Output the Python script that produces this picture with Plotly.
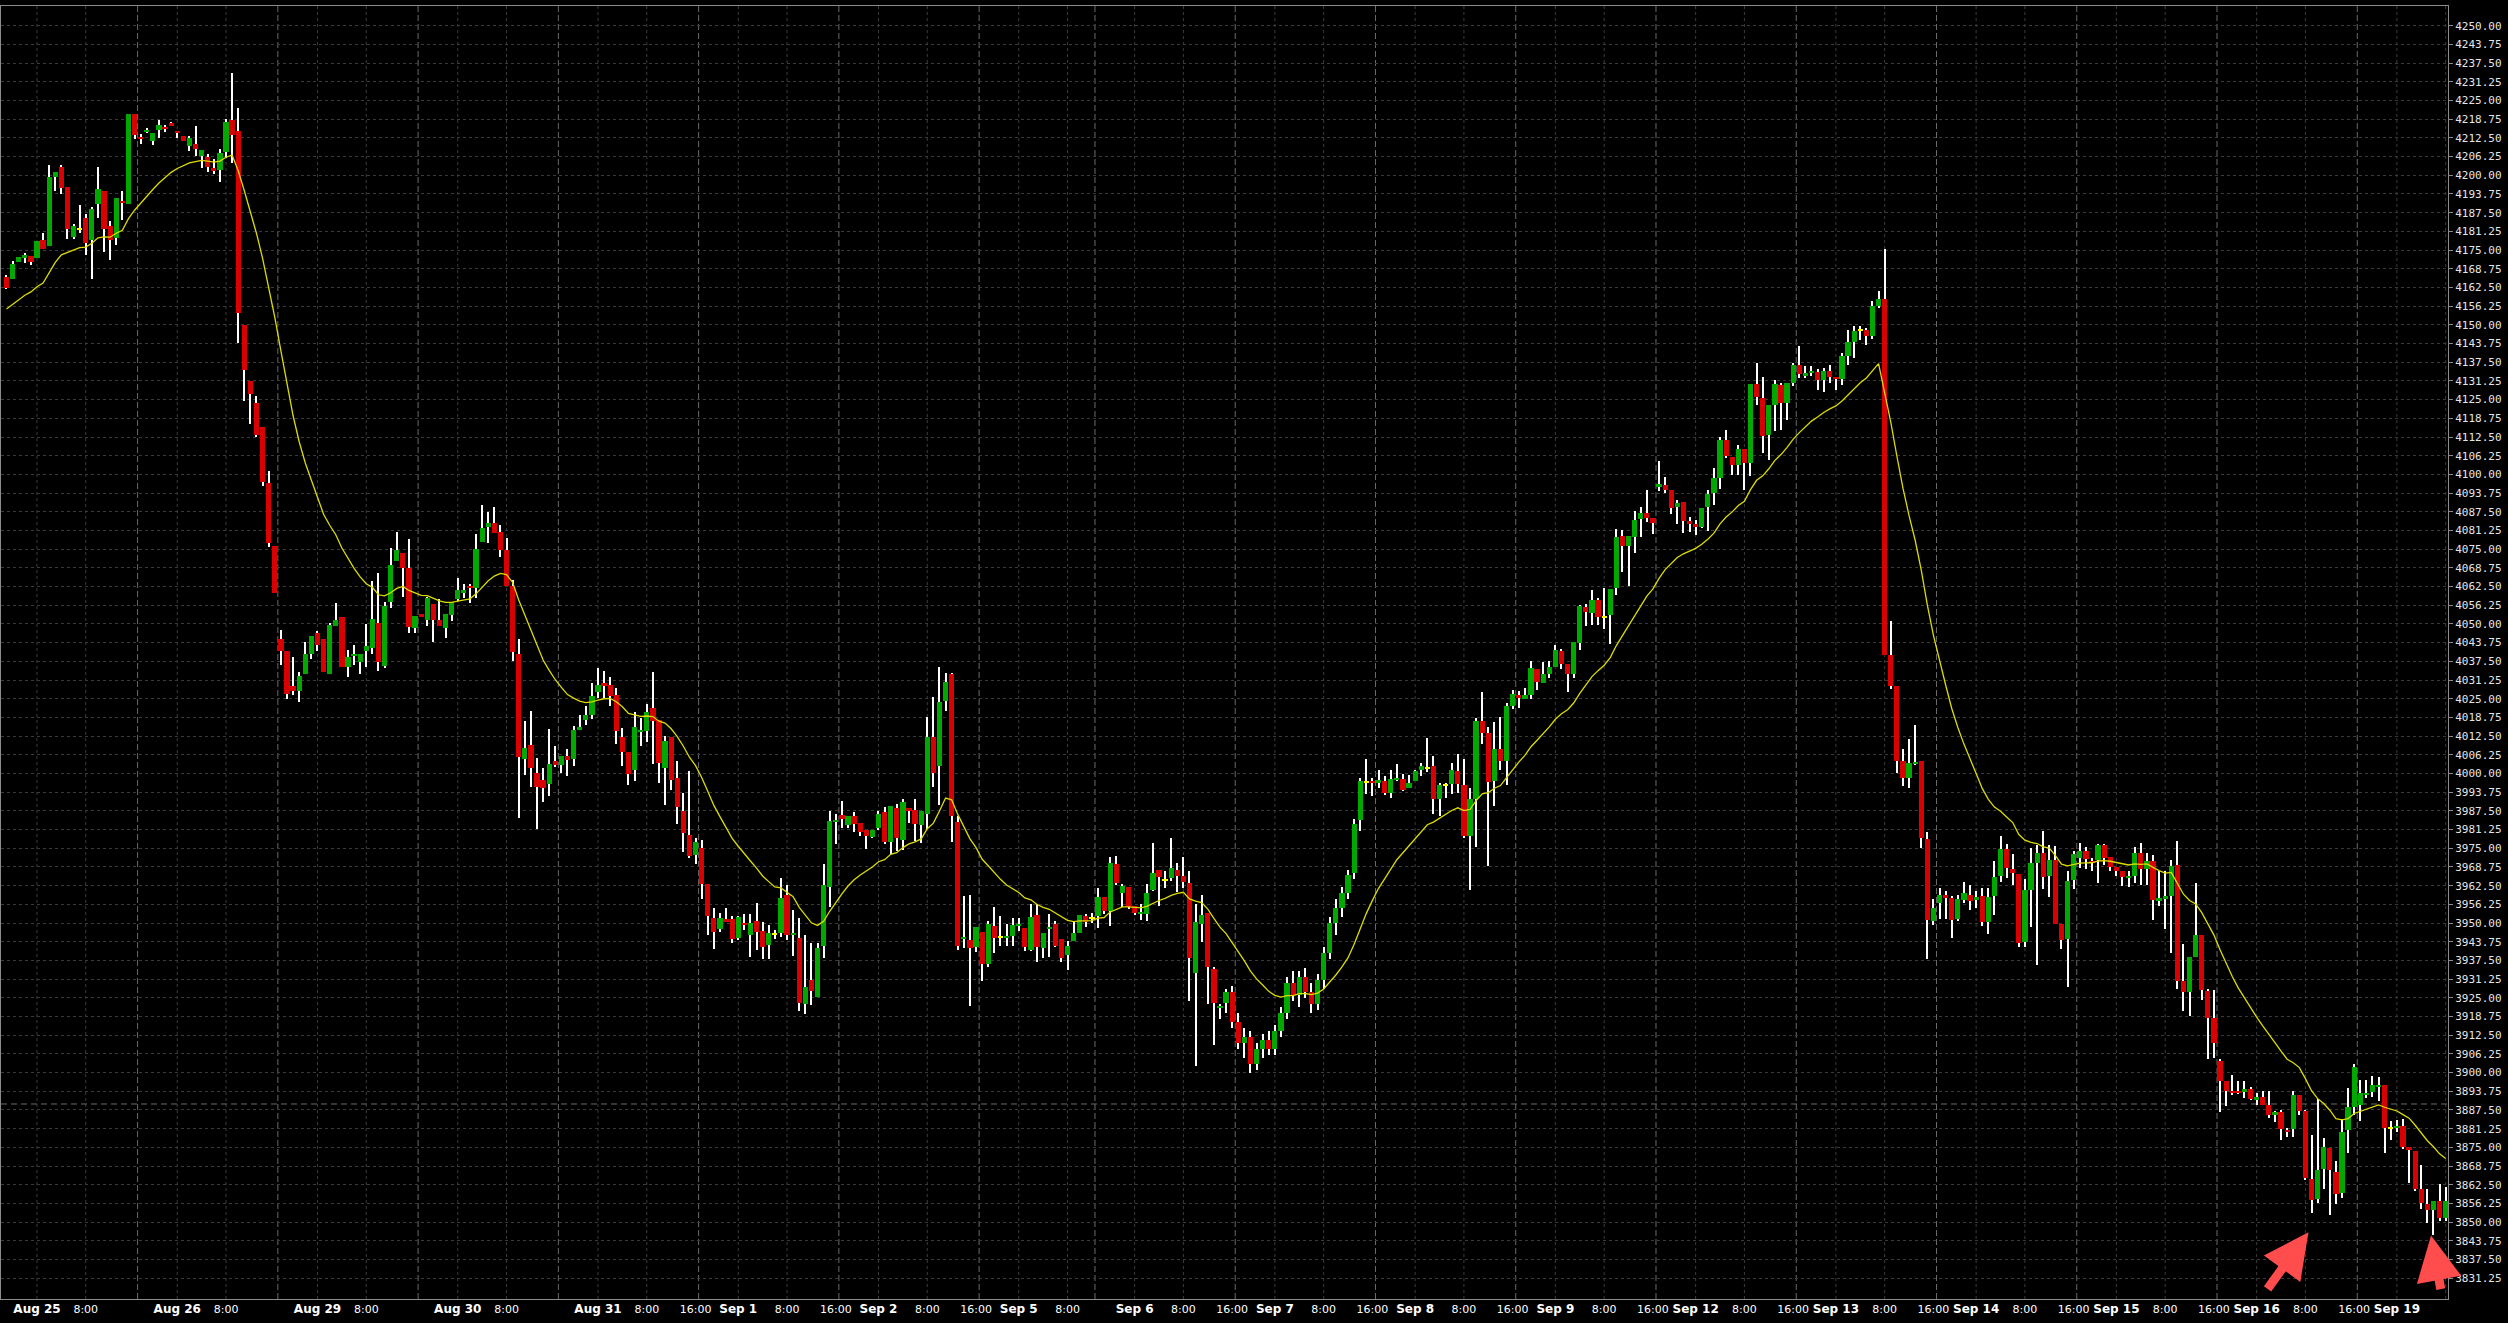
import plotly.graph_objects as go

# ---------------- data (hourly bars) ----------------
opens = [
4166.1, 4165.2, 4171.1, 4172.2, 4173.0, 4172.2, 4178.5, 4176.5, 4199.3, 4202.7,
4196.1, 4179.3, 4182.2, 4185.8, 4178.2, 4190.3, 4194.8, 4183.0, 4179.0, 4191.3,
4190.4, 4220.6, 4212.7, 4214.5, 4211.3, 4215.2, 4216.2, 4217.4, 4214.8, 4213.2,
4209.7, 4210.6, 4206.5, 4206.2, 4202.6, 4201.9, 4207.9, 4218.5, 4214.8, 4150.0,
4131.3, 4123.9, 4115.8, 4097.2, 4075.9, 4045.0, 4041.0, 4029.4, 4027.5, 4033.3,
4040.0, 4047.1, 4044.8, 4033.3, 4049.2, 4052.3, 4035.5, 4039.4, 4037.2, 4041.1,
4042.0, 4050.4, 4036.1, 4057.2, 4071.0, 4073.7, 4068.7, 4048.7, 4053.2, 4051.3,
4056.5, 4051.2, 4048.7, 4053.0, 4058.4, 4060.6, 4062.6, 4062.1, 4077.4, 4082.3,
4083.7, 4080.6, 4074.6, 4062.7, 4039.8, 4004.8, 4009.4, 4000.1, 3997.7, 3996.5,
4004.2, 4002.8, 4005.7, 4004.8, 4014.6, 4017.9, 4019.7, 4027.2, 4030.4, 4029.6,
4026.3, 4012.1, 4007.3, 4001.1, 4014.0, 4014.3, 4021.8, 4017.9, 4001.8, 4012.1,
3998.5, 3987.6, 3979.6, 3972.6, 3975.2, 3962.9, 3951.8, 3948.0, 3951.2, 3951.3,
3945.0, 3950.0, 3945.9, 3950.7, 3947.5, 3942.6, 3946.3, 3946.8, 3959.5, 3946.2,
3945.0, 3923.0, 3931.0, 3925.2, 3942.2, 3961.9, 3983.9, 3986.2, 3982.7, 3985.9,
3983.6, 3981.1, 3978.6, 3981.7, 3987.1, 3977.2, 3988.6, 3977.7, 3988.3, 3987.9,
3982.7, 3986.6, 4012.3, 4002.6, 4024.4, 4033.1, 3983.7, 3944.9, 3944.4, 3941.9,
3947.1, 3936.2, 3949.0, 3945.4, 3945.2, 3945.8, 3949.0, 3948.2, 3941.0, 3952.8,
3941.5, 3947.9, 3949.7, 3944.7, 3939.4, 3943.9, 3946.6, 3952.4, 3951.9, 3952.2,
3958.8, 3953.9, 3969.8, 3959.9, 3962.2, 3955.8, 3952.9, 3952.9, 3961.1, 3967.7,
3964.5, 3965.0, 3967.7, 3965.7, 3963.4, 3933.3, 3949.7, 3953.4, 3934.6, 3921.8,
3923.2, 3927.0, 3917.0, 3910.0, 3912.0, 3903.0, 3908.0, 3911.0, 3908.0, 3914.0,
3920.0, 3930.0, 3926.0, 3932.0, 3927.0, 3923.0, 3931.0, 3940.0, 3950.0, 3955.0,
3960.0, 3966.8, 3984.6, 3997.2, 3997.4, 3996.7, 3997.4, 3993.5, 3997.9, 3998.3,
3995.0, 3997.4, 4001.3, 4001.9, 4002.5, 3991.6, 3996.3, 3996.6, 4000.8, 3996.1,
3979.1, 3991.5, 4017.5, 4013.5, 3997.4, 4008.3, 4004.1, 4022.5, 4026.2, 4025.0,
4026.2, 4035.1, 4030.3, 4033.3, 4035.6, 4040.9, 4036.5, 4033.3, 4043.6, 4055.6,
4053.7, 4058.0, 4052.4, 4053.1, 4062.1, 4079.3, 4076.0, 4079.2, 4085.0, 4087.1,
4085.4, 4095.8, 4096.4, 4094.7, 4089.1, 4090.7, 4084.4, 4083.3, 4082.5, 4089.1,
4093.7, 4098.9, 4111.4, 4105.9, 4103.0, 4108.6, 4103.8, 4130.2, 4125.6, 4113.3,
4123.1, 4129.9, 4123.9, 4130.7, 4136.6, 4133.2, 4133.8, 4134.1, 4131.4, 4134.6,
4132.5, 4131.8, 4139.6, 4144.4, 4148.2, 4148.2, 4146.4, 4156.2, 4158.7, 4039.7,
4029.2, 4004.2, 3998.5, 4003.3, 4004.2, 3978.0, 3950.7, 3956.6, 3959.4, 3958.3,
3951.2, 3957.8, 3959.4, 3957.7, 3959.1, 3950.2, 3958.9, 3965.7, 3974.7, 3968.1,
3966.5, 3943.6, 3961.0, 3970.1, 3973.3, 3965.6, 3971.2, 3949.6, 3944.7, 3964.3,
3971.8, 3974.2, 3970.9, 3971.2, 3976.0, 3972.0, 3968.6, 3967.3, 3965.1, 3965.6,
3973.4, 3968.1, 3970.9, 3957.5, 3958.2, 3958.9, 3969.5, 3930.5, 3926.9, 3938.5,
3946.1, 3927.4, 3918.2, 3903.8, 3897.1, 3894.0, 3894.0, 3893.5, 3894.6, 3890.8,
3891.9, 3889.0, 3886.1, 3886.7, 3880.9, 3881.2, 3892.4, 3887.0, 3864.5, 3857.7,
3867.8, 3874.8, 3866.7, 3859.7, 3880.7, 3888.4, 3889.3, 3892.4, 3893.5, 3895.4,
3895.9, 3881.4, 3881.7, 3882.2, 3875.0, 3873.9, 3861.1, 3856.1, 3854.1, 3857.2,
3851.4,
]

highs = [
4166.5, 4171.4, 4172.7, 4173.9, 4173.0, 4178.1, 4180.7, 4203.3, 4201.1, 4203.5,
4196.1, 4183.8, 4190.1, 4187.2, 4189.3, 4202.7, 4194.8, 4184.6, 4192.4, 4194.8,
4220.6, 4220.6, 4213.9, 4215.9, 4214.0, 4218.5, 4216.8, 4217.7, 4214.8, 4213.2,
4213.0, 4216.6, 4208.5, 4207.2, 4205.6, 4208.8, 4218.8, 4234.2, 4222.4, 4150.0,
4131.3, 4126.1, 4115.8, 4101.1, 4075.9, 4048.1, 4041.0, 4039.1, 4034.0, 4044.0,
4046.1, 4047.5, 4044.8, 4050.4, 4056.9, 4052.3, 4041.4, 4042.9, 4040.1, 4050.1,
4064.2, 4067.1, 4057.2, 4075.3, 4080.7, 4073.7, 4078.5, 4052.6, 4053.2, 4059.1,
4056.5, 4058.3, 4053.2, 4057.2, 4065.3, 4063.3, 4063.3, 4080.0, 4089.7, 4087.5,
4089.1, 4083.0, 4078.9, 4064.8, 4044.9, 4017.4, 4021.0, 4005.1, 4001.7, 4015.0,
4009.1, 4006.0, 4008.1, 4015.9, 4019.7, 4022.4, 4030.2, 4035.3, 4034.4, 4032.2,
4028.7, 4015.1, 4007.3, 4020.4, 4018.7, 4023.4, 4033.8, 4017.9, 4012.7, 4012.1,
4004.2, 3993.6, 4000.7, 3978.5, 3977.6, 3962.9, 3954.9, 3953.5, 3954.9, 3952.5,
3952.5, 3953.1, 3953.1, 3956.8, 3950.3, 3949.5, 3947.7, 3965.0, 3962.7, 3954.3,
3951.7, 3945.9, 3943.2, 3943.2, 3969.8, 3987.6, 3986.3, 3990.9, 3985.9, 3987.1,
3983.6, 3981.1, 3981.1, 3987.6, 3988.7, 3989.2, 3989.8, 3991.5, 3988.3, 3991.5,
3987.3, 4019.0, 4025.5, 4035.7, 4033.5, 4033.6, 3985.7, 3959.2, 3959.5, 3948.8,
3947.1, 3950.8, 3955.5, 3952.5, 3949.7, 3951.7, 3951.6, 3948.2, 3956.2, 3956.4,
3946.8, 3953.0, 3950.8, 3944.7, 3944.1, 3950.8, 3952.8, 3953.0, 3953.5, 3961.7,
3958.8, 3972.2, 3972.5, 3963.1, 3962.2, 3955.8, 3956.4, 3963.1, 3976.7, 3967.7,
3967.5, 3978.4, 3970.2, 3972.2, 3967.5, 3956.2, 3959.4, 3953.4, 3935.2, 3922.9,
3928.0, 3929.0, 3920.0, 3915.0, 3914.0, 3910.0, 3913.0, 3914.0, 3916.0, 3922.0,
3932.0, 3934.0, 3934.0, 3935.0, 3930.0, 3933.0, 3942.0, 3952.0, 3958.0, 3962.0,
3967.6, 3984.8, 3998.6, 4005.0, 3998.6, 4001.0, 3999.1, 4001.3, 4003.2, 3999.7,
3999.5, 4001.3, 4003.6, 4011.9, 4005.8, 3996.9, 3996.9, 4003.6, 4006.6, 4005.0,
3995.2, 4018.6, 4027.2, 4015.5, 4017.2, 4018.9, 4023.6, 4027.9, 4027.5, 4028.7,
4037.6, 4035.1, 4037.2, 4037.6, 4043.0, 4041.5, 4036.5, 4043.9, 4056.3, 4056.5,
4061.2, 4058.8, 4061.9, 4061.7, 4081.6, 4081.4, 4079.3, 4087.6, 4089.1, 4094.7,
4085.4, 4104.5, 4099.1, 4094.7, 4091.5, 4090.7, 4085.7, 4084.9, 4088.8, 4094.7,
4102.2, 4112.5, 4114.9, 4105.9, 4109.7, 4108.6, 4130.2, 4137.4, 4132.7, 4123.1,
4131.4, 4130.7, 4130.7, 4137.4, 4143.0, 4136.2, 4136.2, 4135.4, 4135.7, 4136.5,
4132.5, 4140.6, 4148.3, 4149.6, 4149.6, 4149.1, 4158.0, 4161.4, 4175.2, 4050.9,
4029.2, 4008.2, 4011.5, 4016.2, 4004.2, 3980.4, 3958.1, 3961.8, 3960.7, 3959.1,
3959.4, 3963.8, 3962.6, 3960.7, 3961.8, 3961.8, 3970.9, 3979.1, 3976.3, 3973.1,
3966.5, 3964.6, 3975.2, 3976.0, 3980.9, 3976.0, 3975.7, 3949.6, 3967.5, 3974.0,
3976.6, 3975.3, 3971.8, 3976.5, 3976.5, 3972.0, 3968.6, 3967.3, 3967.3, 3975.3,
3976.6, 3973.4, 3972.9, 3967.3, 3967.3, 3971.0, 3977.3, 3943.1, 3938.5, 3963.4,
3946.1, 3927.9, 3927.7, 3904.7, 3897.1, 3899.1, 3897.1, 3897.1, 3895.2, 3893.1,
3893.9, 3893.9, 3887.2, 3887.6, 3881.4, 3893.9, 3892.6, 3887.6, 3879.0, 3891.2,
3878.1, 3874.8, 3870.5, 3884.4, 3894.8, 3903.0, 3897.4, 3897.6, 3898.7, 3898.4,
3895.9, 3883.7, 3884.2, 3884.4, 3875.0, 3873.9, 3869.2, 3861.1, 3857.2, 3862.7,
3861.6,
]

lows = [
4162.0, 4165.2, 4171.1, 4170.7, 4170.1, 4172.2, 4175.5, 4176.5, 4194.9, 4193.9,
4178.8, 4178.8, 4180.6, 4173.2, 4165.2, 4185.8, 4174.5, 4171.6, 4176.8, 4184.9,
4190.4, 4212.0, 4210.6, 4214.0, 4210.1, 4212.6, 4214.6, 4216.8, 4212.4, 4211.6,
4208.2, 4206.4, 4202.4, 4201.1, 4200.4, 4197.9, 4205.9, 4204.0, 4143.9, 4124.5,
4116.8, 4112.4, 4096.1, 4075.6, 4060.3, 4036.2, 4025.0, 4026.1, 4023.9, 4033.3,
4038.4, 4040.8, 4034.0, 4033.3, 4049.2, 4035.5, 4032.1, 4036.2, 4033.2, 4035.5,
4039.8, 4034.3, 4035.3, 4055.3, 4071.0, 4059.0, 4047.1, 4046.9, 4052.3, 4049.3,
4043.9, 4049.2, 4045.3, 4051.0, 4057.7, 4058.8, 4057.1, 4058.8, 4077.4, 4077.0,
4080.5, 4072.4, 4062.7, 4037.6, 3985.2, 3999.5, 3995.4, 3981.5, 3990.5, 3992.4,
4002.3, 4000.3, 3999.1, 4002.4, 4014.6, 4016.2, 4018.2, 4025.4, 4025.4, 4022.5,
4009.9, 4002.4, 3996.1, 3997.5, 4009.1, 4010.6, 4003.2, 3996.9, 3989.4, 3994.6,
3983.2, 3973.8, 3971.6, 3969.7, 3958.0, 3945.9, 3941.3, 3947.1, 3950.5, 3943.2,
3944.4, 3947.7, 3938.5, 3940.9, 3937.9, 3937.9, 3944.7, 3945.3, 3944.4, 3939.1,
3920.6, 3919.6, 3922.6, 3925.2, 3938.3, 3955.5, 3976.4, 3981.7, 3981.8, 3980.3,
3979.0, 3974.8, 3978.5, 3981.2, 3976.4, 3973.1, 3974.2, 3974.5, 3983.4, 3977.3,
3976.7, 3981.5, 3995.6, 3989.6, 4021.0, 3977.2, 3941.1, 3941.7, 3922.4, 3940.2,
3930.7, 3935.2, 3939.9, 3942.4, 3942.4, 3942.4, 3947.5, 3940.8, 3940.5, 3936.9,
3938.3, 3938.5, 3941.9, 3936.9, 3934.3, 3943.9, 3946.6, 3948.6, 3950.0, 3948.3,
3953.0, 3949.1, 3962.6, 3955.3, 3954.7, 3952.8, 3951.0, 3950.6, 3960.8, 3955.8,
3961.7, 3964.2, 3960.3, 3961.6, 3924.0, 3902.3, 3943.6, 3922.9, 3909.3, 3917.9,
3920.0, 3915.0, 3908.0, 3905.0, 3900.0, 3901.0, 3905.0, 3906.0, 3906.0, 3912.0,
3918.0, 3924.0, 3922.0, 3925.0, 3920.0, 3921.0, 3928.0, 3938.0, 3946.0, 3952.0,
3958.0, 3964.6, 3980.9, 3993.2, 3992.4, 3995.2, 3992.8, 3991.9, 3997.4, 3994.1,
3995.0, 3997.4, 3999.3, 4000.6, 3986.3, 3985.7, 3991.9, 3993.0, 3993.5, 3978.3,
3961.0, 3975.4, 4009.7, 3969.0, 3989.1, 4001.0, 3996.1, 4021.4, 4022.0, 4025.0,
4025.0, 4027.9, 4030.3, 4032.0, 4035.6, 4034.8, 4027.3, 4032.0, 4041.4, 4049.4,
4049.5, 4049.8, 4048.2, 4043.4, 4059.7, 4067.5, 4062.8, 4073.8, 4079.2, 4084.1,
4080.1, 4094.4, 4093.9, 4086.8, 4083.3, 4080.5, 4080.9, 4079.8, 4082.0, 4081.2,
4089.9, 4095.1, 4105.4, 4099.9, 4099.9, 4094.8, 4099.6, 4123.1, 4107.0, 4104.9,
4114.4, 4114.9, 4118.3, 4129.4, 4132.2, 4132.2, 4133.0, 4128.3, 4127.5, 4130.7,
4128.3, 4129.9, 4136.6, 4138.9, 4144.9, 4143.3, 4145.2, 4155.6, 4039.7, 4028.1,
4000.0, 3995.7, 3995.2, 4002.8, 3975.2, 3938.1, 3949.5, 3951.2, 3951.2, 3945.0,
3950.7, 3956.7, 3954.4, 3955.1, 3949.1, 3946.3, 3952.6, 3963.8, 3965.2, 3962.6,
3942.0, 3942.0, 3948.7, 3936.1, 3961.4, 3958.6, 3949.7, 3941.3, 3928.6, 3961.4,
3968.4, 3968.1, 3967.5, 3963.4, 3969.5, 3967.3, 3965.6, 3962.5, 3961.9, 3963.4,
3962.8, 3962.8, 3951.0, 3955.6, 3948.1, 3940.0, 3927.9, 3920.7, 3919.0, 3938.5,
3924.4, 3904.7, 3904.9, 3886.8, 3888.7, 3892.4, 3892.8, 3891.5, 3890.9, 3889.3,
3889.0, 3884.8, 3883.4, 3877.5, 3878.3, 3878.3, 3885.9, 3864.2, 3853.0, 3856.4,
3861.1, 3852.5, 3856.0, 3858.0, 3873.1, 3885.9, 3883.7, 3891.5, 3892.0, 3890.6,
3873.1, 3877.5, 3880.3, 3874.4, 3863.0, 3860.3, 3854.3, 3849.7, 3845.8, 3850.4,
3850.4,
]

closes = [
4162.4, 4170.4, 4172.7, 4173.2, 4171.1, 4178.1, 4175.5, 4199.4, 4201.1, 4195.9,
4182.2, 4182.9, 4182.2, 4177.4, 4188.8, 4195.5, 4182.2, 4178.4, 4192.4, 4190.6,
4220.6, 4213.6, 4212.3, 4215.2, 4214.0, 4216.8, 4215.5, 4216.8, 4214.0, 4211.6,
4212.4, 4208.8, 4208.5, 4202.7, 4201.3, 4207.5, 4217.9, 4213.6, 4153.8, 4134.8,
4126.8, 4113.3, 4097.4, 4076.9, 4060.3, 4041.0, 4026.5, 4027.5, 4032.7, 4040.0,
4046.1, 4042.9, 4034.0, 4049.7, 4051.4, 4035.5, 4039.1, 4040.1, 4040.1, 4042.6,
4051.7, 4037.2, 4056.1, 4069.8, 4074.8, 4068.7, 4049.0, 4052.6, 4052.3, 4058.6,
4051.3, 4049.2, 4053.2, 4057.2, 4061.2, 4061.2, 4062.1, 4075.0, 4082.0, 4083.8,
4080.5, 4074.7, 4062.7, 4040.6, 4005.4, 4008.4, 4001.8, 3995.6, 3995.2, 4003.3,
4003.0, 4006.0, 4004.5, 4014.4, 4015.4, 4019.4, 4026.0, 4029.6, 4029.2, 4025.9,
4014.2, 4007.3, 3999.7, 4015.4, 4014.6, 4020.4, 4017.5, 4003.5, 4011.0, 3997.8,
3988.7, 3980.2, 3972.5, 3977.2, 3963.0, 3952.3, 3947.1, 3951.6, 3950.5, 3944.5,
3952.1, 3949.3, 3950.1, 3946.9, 3942.1, 3946.8, 3946.3, 3958.5, 3945.9, 3946.8,
3923.2, 3928.6, 3927.4, 3941.5, 3962.8, 3984.2, 3984.6, 3984.7, 3985.9, 3983.1,
3980.3, 3979.0, 3981.1, 3986.6, 3977.2, 3989.2, 3978.3, 3990.6, 3987.7, 3983.0,
3987.3, 4012.3, 4000.1, 4024.0, 4030.7, 3985.9, 3942.4, 3945.4, 3941.5, 3948.8,
3936.2, 3949.7, 3945.0, 3945.4, 3945.8, 3949.5, 3949.7, 3941.9, 3952.1, 3941.9,
3946.8, 3948.8, 3942.4, 3938.3, 3942.4, 3946.7, 3952.8, 3950.4, 3951.9, 3958.8,
3953.9, 3970.2, 3963.3, 3962.5, 3955.3, 3953.3, 3953.6, 3960.2, 3966.7, 3965.3,
3964.5, 3968.4, 3965.7, 3963.8, 3938.3, 3950.2, 3952.7, 3935.2, 3923.2, 3922.3,
3927.0, 3917.0, 3910.0, 3912.0, 3903.0, 3908.0, 3911.0, 3908.0, 3914.0, 3920.0,
3930.0, 3926.0, 3932.0, 3927.0, 3923.0, 3931.0, 3940.0, 3950.0, 3955.0, 3960.0,
3966.0, 3983.2, 3997.4, 3997.2, 3996.7, 3997.8, 3993.5, 3998.3, 3998.3, 3994.4,
3996.9, 4000.8, 4002.5, 4001.9, 3991.6, 3996.3, 3996.3, 4001.1, 3996.6, 3979.1,
3991.4, 4017.5, 4013.6, 3997.2, 4008.3, 4004.1, 4022.5, 4026.5, 4025.3, 4026.2,
4035.2, 4030.7, 4033.2, 4035.6, 4041.3, 4036.5, 4033.3, 4043.9, 4056.1, 4054.0,
4058.0, 4052.4, 4052.4, 4061.7, 4079.0, 4076.0, 4079.3, 4084.9, 4087.1, 4085.4,
4083.6, 4096.7, 4094.7, 4088.8, 4090.4, 4084.4, 4083.5, 4082.5, 4088.8, 4093.6,
4098.8, 4111.4, 4106.2, 4103.0, 4108.6, 4103.8, 4130.2, 4125.9, 4113.0, 4123.1,
4130.2, 4123.9, 4130.7, 4136.6, 4133.5, 4133.8, 4134.6, 4131.4, 4134.6, 4132.5,
4131.8, 4139.6, 4144.4, 4148.0, 4148.2, 4146.4, 4156.2, 4158.7, 4039.7, 4029.2,
4004.2, 3998.5, 4003.6, 4003.9, 3978.3, 3951.0, 3955.1, 3959.4, 3958.3, 3951.0,
3958.1, 3959.9, 3957.4, 3958.6, 3950.2, 3958.6, 3965.4, 3974.7, 3968.4, 3966.8,
3943.3, 3961.0, 3970.0, 3973.4, 3965.5, 3971.2, 3949.7, 3944.4, 3964.0, 3973.2,
3974.2, 3971.4, 3970.2, 3976.2, 3971.8, 3968.8, 3967.3, 3965.4, 3965.6, 3973.4,
3968.1, 3970.9, 3957.7, 3958.4, 3958.9, 3969.0, 3930.5, 3926.9, 3938.5, 3946.1,
3927.6, 3918.2, 3909.9, 3897.3, 3894.0, 3893.5, 3893.5, 3894.6, 3891.3, 3891.9,
3889.3, 3885.7, 3886.7, 3881.2, 3880.3, 3892.6, 3887.2, 3864.7, 3857.5, 3867.5,
3875.0, 3867.3, 3859.4, 3880.3, 3888.4, 3901.8, 3893.1, 3893.1, 3895.9, 3895.9,
3881.4, 3881.4, 3882.2, 3875.1, 3874.0, 3861.0, 3856.4, 3854.1, 3857.2, 3851.4,
3857.2,
]

# moving average (EMA) settings
ma_period = 19
ma_first_value = 4155.3

# horizontal reference line price
ref_line_price = 3889.5

# x-axis labels: bar index of each label and its text
tick_bars = [5, 13, 28, 36, 51, 59, 74, 82, 97, 105, 113, 120, 128, 136, 143, 151, 159,
             166, 174, 185, 193, 201, 208, 216, 224, 231, 239, 247, 254, 262, 270,
             277, 285, 293, 300, 308, 316, 323, 331, 339, 346, 354, 362, 369, 377, 385, 392]
tick_texts = ["Aug 25", "8:00", "Aug 26", "8:00", "Aug 29", "8:00", "Aug 30", "8:00",
              "Aug 31", "8:00", "16:00", "Sep 1", "8:00", "16:00", "Sep 2", "8:00", "16:00",
              "Sep 5", "8:00", "Sep 6", "8:00", "16:00", "Sep 7", "8:00", "16:00",
              "Sep 8", "8:00", "16:00", "Sep 9", "8:00", "16:00", "Sep 12", "8:00", "16:00",
              "Sep 13", "8:00", "16:00", "Sep 14", "8:00", "16:00", "Sep 15", "8:00", "16:00",
              "Sep 16", "8:00", "16:00", "Sep 19"]
# day starts (bar index) and session separators (bar index between sessions)
day_bars = [5, 28, 51, 74, 97, 120, 143, 166, 185, 208, 231, 254, 277, 300, 323, 346, 369, 392]
separator_bars = [21.5, 44.5, 67.5, 90.5, 113.5, 136.5, 159.5, 178.5, 201.5, 224.5,
                  247.5, 270.5, 293.5, 316.5, 339.5, 362.5, 385.5]

# y-axis ticks
y_tick_vals = [3831.25 + 6.25 * k for k in range(68)]
y_tick_text = ["%.2f" % v for v in y_tick_vals]

# ---------------- build figure ----------------
n = len(closes)
idx = list(range(n))

GREEN = "#00a800"
RED = "#d80000"
YELLOW = "#ffff00"

alpha = 2.0 / (ma_period + 1)
ema = [ma_first_value]
for c in closes[1:]:
    ema.append(ema[-1] + alpha * (c - ema[-1]))

body_base, body_h, body_col = [], [], []
for o, c in zip(opens, closes):
    lo, hi = min(o, c), max(o, c)
    if hi - lo < 0.3:
        col = YELLOW
        lo, hi = o - 0.25, o + 0.25
    elif c > o:
        col = GREEN
    else:
        col = RED
    h = max(hi - lo, 0.45)
    body_base.append(lo)
    body_h.append(h)
    body_col.append(col)

wick_h = [h - l for h, l in zip(highs, lows)]

fig = go.Figure()
fig.add_trace(go.Bar(x=idx, y=wick_h, base=lows, width=0.17,
                     marker=dict(color="#ffffff", line=dict(width=0)),
                     hoverinfo="skip"))
fig.add_trace(go.Bar(x=idx, y=body_h, base=body_base, width=0.86,
                     marker=dict(color=body_col, line=dict(width=0)),
                     hoverinfo="skip"))
fig.add_trace(go.Scatter(x=idx, y=ema, mode="lines",
                         line=dict(color="#dcdc00", width=1.3), hoverinfo="skip"))

shapes = []
for d in day_bars:
    for off in (0, 8):
        shapes.append(dict(type="line", xref="x", yref="paper", x0=d + off, x1=d + off,
                           y0=0, y1=1, layer="below",
                           line=dict(color="#3c3c3c", width=1, dash="3px,3px")))
for s in separator_bars:
    shapes.append(dict(type="line", xref="x", yref="paper", x0=s, x1=s, y0=0, y1=1,
                       layer="below", line=dict(color="#6a6a6a", width=1, dash="6px,3px")))
shapes.append(dict(type="line", xref="paper", yref="y", x0=0, x1=1,
                   y0=ref_line_price, y1=ref_line_price, layer="below",
                   line=dict(color="#6a6a6a", width=1, dash="6px,4px")))

ticktext_fmt = [("<span style='font-size:12px'><b>%s</b></span>" % t) if t[0].isalpha() else t
                for t in tick_texts]

fig.update_layout(
    width=2508, height=1323,
    margin=dict(l=1, r=60, t=6, b=24),
    paper_bgcolor="#000000", plot_bgcolor="#000000",
    barmode="overlay", bargap=0,
    showlegend=False,
    shapes=shapes,
    font=dict(family="DejaVu Sans", size=11, color="#ffffff"),
    xaxis=dict(range=[-0.90, 400.38], showgrid=False, zeroline=False,
               showline=True, linecolor="#8c8c8c", mirror=True,
               tickmode="array", tickvals=tick_bars, ticktext=ticktext_fmt,
               ticks="", tickfont=dict(family="DejaVu Sans", size=11, color="#ffffff")),
    yaxis=dict(range=[3824.3, 4256.6], side="right", zeroline=False,
               showline=True, linecolor="#8c8c8c", mirror=True,
               tickmode="array", tickvals=y_tick_vals, ticktext=y_tick_text,
               ticks="outside", ticklen=4, tickcolor="#8c8c8c",
               showgrid=True, gridcolor="#3a3a3a", griddash="3px,3px", gridwidth=1,
               tickfont=dict(family="DejaVu Sans Mono", size=11, color="#e6e6e6")),
    annotations=[
        dict(x=377.5, y=3846.6, xref="x", yref="y", text="", showarrow=True,
             ax=-42, ay=58, arrowcolor="#ff4d4d", arrowwidth=9, arrowhead=2,
             arrowsize=1, standoff=0),
        dict(x=397.6, y=3845.5, xref="x", yref="y", text="", showarrow=True,
             ax=10, ay=55, arrowcolor="#ff4d4d", arrowwidth=9, arrowhead=2,
             arrowsize=1, standoff=0),
    ],
)

# remove the browser's default page margin so the figure sits at the window origin
page_fix = "document.body.style.margin='0';document.body.style.overflow='hidden';"

fig.write_html("out.html", config={"displayModeBar": False}, post_script=page_fix)
